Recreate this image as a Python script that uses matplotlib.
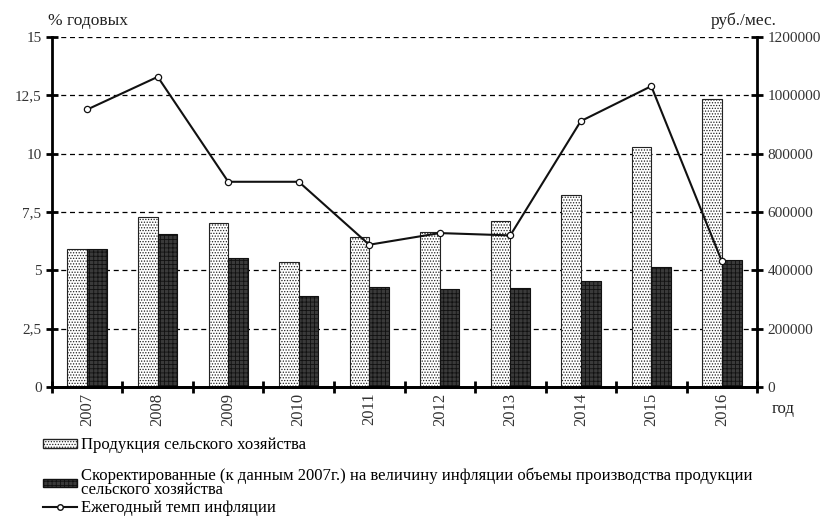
"""Agricultural output vs. inflation chart."""

import matplotlib
matplotlib.use("Agg")
import matplotlib.pyplot as plt
import numpy as np
from matplotlib.patches import Patch
from matplotlib.lines import Line2D

plt.rcParams["font.family"] = ["Liberation Serif", "DejaVu Serif"]
plt.rcParams["hatch.linewidth"] = 0.6

years = ["2007", "2008", "2009", "2010", "2011", "2012", "2013", "2014", "2015", "2016"]
production = [475000, 583000, 562000, 430000, 514000, 532000, 570000, 658000, 823000, 988000]
adjusted = [475000, 524000, 443000, 311000, 343000, 336000, 339000, 365000, 412000, 435000]
inflation = [11.9, 13.3, 8.8, 8.8, 6.1, 6.6, 6.5, 11.4, 12.9, 5.4]

left_ticks = [0, 2.5, 5, 7.5, 10, 12.5, 15]
left_labels = ["0", "2,5", "5", "7,5", "10", "12,5", "15"]
right_ticks = [0, 200000, 400000, 600000, 800000, 1000000, 1200000]

fig = plt.figure(figsize=(8.33, 5.24), dpi=100)
ax = fig.add_axes([0.0624, 0.2615, 0.8464, 0.6675])
ax2 = ax.twinx()

x = np.arange(len(years))
w = 0.28

# bars on the right axis, kept behind the inflation line
ax2.bar(x - w / 2, production, w, facecolor="white", edgecolor="#222222",
        hatch="......", linewidth=0.8, zorder=2)
ax2.bar(x + w / 2, adjusted, w, facecolor="#3a3a3a", edgecolor="#111111",
        hatch="++++", linewidth=0.8, zorder=2)
ax2.set_ylim(0, 1200000)
ax2.set_yticks(right_ticks)
ax2.set_yticklabels([str(t) for t in right_ticks])
ax2.yaxis.grid(True, linestyle=(0, (4, 3)), color="black", linewidth=0.9)
ax2.set_axisbelow(True)

ax.plot(x, inflation, color="#111111", linewidth=1.5, marker="o",
        markersize=4.5, markerfacecolor="white", markeredgecolor="#111111",
        markeredgewidth=0.9, zorder=5)
ax.set_zorder(ax2.get_zorder() + 1)
ax.patch.set_visible(False)
ax.set_ylim(0, 15)
ax.set_xlim(-0.5, len(years) - 0.5)
ax.set_yticks(left_ticks)
ax.set_yticklabels(left_labels)

ax.set_xticks(x)
ax.set_xticklabels(years, rotation=90)
ax.set_xticks(np.arange(len(years) + 1) - 0.5, minor=True)
ax.tick_params(axis="x", which="major", length=0, pad=4, labelsize=12, colors="#333333")
ax.tick_params(axis="x", which="minor", length=8, width=2, direction="inout")
ax.tick_params(axis="y", length=8, width=2, direction="inout", labelsize=11,
               labelcolor="#333333")
ax2.tick_params(axis="y", length=8, width=2, direction="inout", labelsize=11,
                labelcolor="#333333")

for a in (ax, ax2):
    a.spines["top"].set_visible(False)
    for s in ("left", "right", "bottom"):
        a.spines[s].set_linewidth(2)
ax.spines["right"].set_visible(False)
ax2.spines["left"].set_visible(False)

fig.text(0.058, 0.953, "% годовых", fontsize=12.5, color="#222222")
fig.text(0.853, 0.953, "руб./мес.", fontsize=12.5, color="#222222")
fig.text(0.926, 0.212, "год", fontsize=12, color="#222222")

handles = [
    Patch(facecolor="white", edgecolor="#222222", hatch="......"),
    Patch(facecolor="#3a3a3a", edgecolor="#111111", hatch="++++"),
    Line2D([], [], color="#111111", linewidth=1.5, marker="o", markersize=4,
           markerfacecolor="white", markeredgecolor="#111111"),
]
labels = [
    "Продукция сельского хозяйства",
    "Скоректированные (к данным 2007г.) на величину инфляции объемы производства продукции\n"
    "сельского хозяйства",
    "Ежегодный темп инфляции",
]
# one legend per entry so the rows can sit at their own heights
legend_y = [0.150, 0.078, 0.030]
for h, lab, y in zip(handles, labels, legend_y):
    leg = fig.legend([h], [lab], loc="center left", bbox_to_anchor=(0.052, y),
                     frameon=False, fontsize=12, handlelength=2.0, handleheight=0.4,
                     handletextpad=0.25, borderaxespad=0, borderpad=0)
    for t in leg.get_texts():
        t.set_linespacing(0.85)

fig.savefig("out.png", dpi=100)
